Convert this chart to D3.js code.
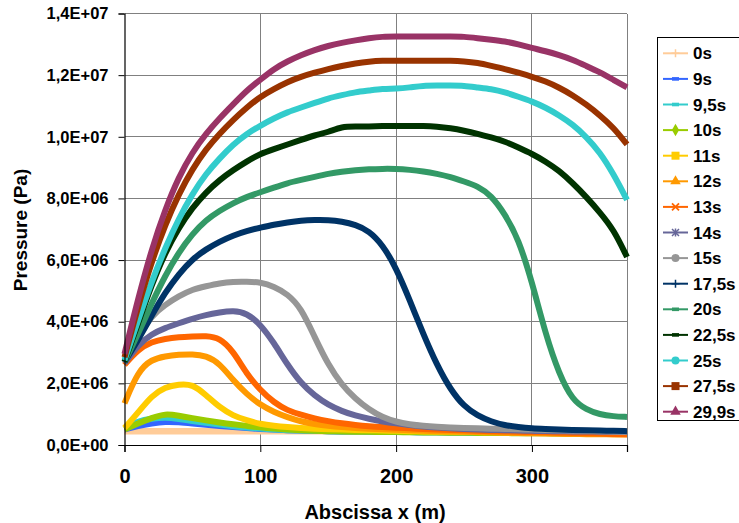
<!DOCTYPE html>
<html><head><meta charset="utf-8">
<script src="https://cdn.jsdelivr.net/npm/d3@7"></script>
<style>
body{margin:0;background:#fff}
svg{display:block}
text{font-family:"Liberation Sans",Arial,sans-serif;font-weight:bold;fill:#000}
</style>
</head><body>
<svg id="c" width="739" height="523"></svg>
<script>
// ---- data (pressure values in 1E+06 Pa) ----
const UNIT = 1e6;
const xValues = [0,10,20,30,40,50,60,70,80,90,100,110,120,130,140,150,160,170,180,190,200,210,220,230,240,250,260,270,280,290,300,310,320,330,340,350,360,370];
const seriesNames = ["0s","9s","9,5s","10s","11s","12s","13s","14s","15s","17,5s","20s","22,5s","25s","27,5s","29,9s"];
const seriesColors = ["#FFCC99","#3366FF","#33CCCC","#99CC00","#FFCC00","#FF9900","#FF6600","#666699","#969696","#003366","#339966","#003300","#33CCCC","#993300","#993366"];
const seriesMarkers = ["plus","dash","dash","diamond","square","triangle","x","star","circle","plus","dash","dash","circle","square","triangle"];

const p0s   = [0.45,0.45,0.45,0.45,0.45,0.45,0.45,0.45,0.45,0.45,0.45,0.45,0.45,0.45,0.45,0.45,0.45,0.45,0.45,0.45,0.45,0.45,0.45,0.45,0.45,0.45,0.45,0.45,0.45,0.45,0.45,0.45,0.45,0.45,0.45,0.45,0.45,0.45];
const p9s   = [0.5,0.62,0.7,0.76,0.74,0.7,0.66,0.62,0.58,0.55,0.52,0.5,0.48,0.47,0.46,0.45,0.44,0.44,0.43,0.43,0.42,0.42,0.41,0.41,0.41,0.4,0.4,0.4,0.4,0.39,0.39,0.39,0.39,0.38,0.38,0.38,0.38,0.38];
const p9_5s = [0.55,0.78,0.86,0.9,0.85,0.78,0.72,0.66,0.61,0.57,0.53,0.5,0.48,0.47,0.46,0.45,0.44,0.44,0.43,0.43,0.42,0.42,0.41,0.41,0.41,0.4,0.4,0.4,0.4,0.39,0.39,0.39,0.39,0.38,0.38,0.38,0.38,0.38];
const p10s  = [0.5,0.7,0.88,1.02,0.95,0.87,0.8,0.73,0.67,0.62,0.57,0.53,0.5,0.48,0.46,0.45,0.44,0.43,0.43,0.42,0.42,0.41,0.41,0.4,0.4,0.4,0.39,0.39,0.39,0.38,0.38,0.38,0.37,0.37,0.37,0.37,0.36,0.36];
const p11s  = [0.55,1.05,1.6,1.88,1.97,1.98,1.62,1.22,0.95,0.8,0.68,0.62,0.58,0.55,0.53,0.51,0.5,0.49,0.48,0.47,0.46,0.45,0.44,0.43,0.43,0.42,0.42,0.41,0.41,0.4,0.4,0.39,0.39,0.38,0.38,0.37,0.37,0.36];
const p12s  = [1.35,2.4,2.78,2.88,2.93,2.95,2.9,2.65,2.1,1.65,1.3,1.07,0.9,0.76,0.68,0.62,0.58,0.55,0.53,0.51,0.49,0.48,0.46,0.45,0.44,0.43,0.42,0.41,0.4,0.39,0.38,0.37,0.36,0.36,0.35,0.35,0.34,0.34];
const p13s  = [2.6,3.1,3.35,3.45,3.5,3.52,3.54,3.48,3.05,2.3,1.78,1.38,1.12,0.98,0.86,0.77,0.7,0.65,0.61,0.58,0.56,0.54,0.52,0.5,0.49,0.48,0.46,0.45,0.44,0.43,0.42,0.41,0.4,0.39,0.38,0.37,0.36,0.35];
const p14s  = [2.65,3.25,3.6,3.8,3.95,4.1,4.22,4.3,4.36,4.28,3.92,3.32,2.6,2.0,1.6,1.3,1.1,0.95,0.85,0.76,0.7,0.65,0.6,0.57,0.54,0.52,0.5,0.49,0.48,0.47,0.46,0.45,0.45,0.44,0.44,0.43,0.43,0.42];
const p15s  = [2.7,3.5,4.2,4.55,4.83,5.05,5.15,5.25,5.3,5.3,5.28,5.15,4.9,4.45,3.5,2.6,1.95,1.5,1.15,0.9,0.75,0.67,0.62,0.59,0.57,0.55,0.54,0.53,0.52,0.51,0.5,0.49,0.48,0.47,0.46,0.45,0.44,0.43];
const p17_5s= [2.7,3.4,4.2,4.95,5.55,6.03,6.35,6.6,6.8,6.95,7.05,7.15,7.22,7.28,7.3,7.3,7.25,7.15,6.95,6.5,5.75,4.7,3.6,2.6,1.8,1.25,0.95,0.76,0.64,0.58,0.54,0.52,0.5,0.49,0.48,0.47,0.46,0.45];
const p20s  = [2.7,3.6,4.6,5.5,6.25,6.85,7.3,7.6,7.85,8.05,8.2,8.35,8.5,8.6,8.7,8.8,8.87,8.92,8.95,8.96,8.96,8.93,8.88,8.8,8.7,8.55,8.4,8.1,7.5,6.7,5.3,3.6,2.3,1.45,1.15,0.99,0.93,0.91];
const p22_5s= [2.7,3.95,5.2,6.25,7.05,7.7,8.2,8.6,8.92,9.2,9.45,9.6,9.75,9.9,10.05,10.15,10.33,10.33,10.33,10.35,10.35,10.35,10.35,10.33,10.28,10.2,10.1,9.98,9.85,9.65,9.45,9.2,8.9,8.5,8.05,7.55,7.0,6.1];
const p25s  = [2.75,4.05,5.3,6.4,7.35,8.15,8.8,9.3,9.75,10.1,10.36,10.6,10.8,10.95,11.1,11.25,11.35,11.45,11.5,11.56,11.56,11.6,11.66,11.66,11.66,11.66,11.6,11.55,11.45,11.3,11.15,10.95,10.7,10.4,10.0,9.5,8.8,7.95];
const p27_5s= [2.85,4.5,5.95,7.15,8.15,8.95,9.6,10.1,10.55,10.95,11.3,11.55,11.78,11.95,12.08,12.2,12.3,12.38,12.44,12.47,12.47,12.47,12.47,12.47,12.47,12.45,12.4,12.3,12.2,12.08,11.95,11.8,11.6,11.35,11.05,10.7,10.3,9.75];
const p29_9s= [2.95,4.75,6.35,7.65,8.7,9.5,10.1,10.6,11.05,11.5,11.85,12.2,12.45,12.65,12.82,12.95,13.05,13.13,13.2,13.25,13.25,13.25,13.25,13.25,13.25,13.25,13.2,13.15,13.1,13.0,12.88,12.78,12.65,12.5,12.3,12.1,11.85,11.6];
const seriesValues = [p0s,p9s,p9_5s,p10s,p11s,p12s,p13s,p14s,p15s,p17_5s,p20s,p22_5s,p25s,p27_5s,p29_9s];

const yTicks = [0,2e6,4e6,6e6,8e6,10e6,12e6,14e6];
const yTickLabels = ["0,0E+00","2,0E+06","4,0E+06","6,0E+06","8,0E+06","1,0E+07","1,2E+07","1,4E+07"];
const xTicks = [0,100,200,300];
const xTickLabels = ["0","100","200","300"];

// ---- layout ----
const svg = d3.select("#c");
const L = 124.5, R = 627, T = 13.5, B = 445;
const x = d3.scaleLinear().domain([0,370]).range([L,R]);
const y = d3.scaleLinear().domain([0,14e6]).range([B,T]);

svg.append("rect").attr("width",739).attr("height",523).attr("fill","#fff");

// grid
const grid = svg.append("g").attr("stroke","#808080").attr("stroke-width",1).attr("shape-rendering","crispEdges");
yTicks.filter(v=>v>0).forEach(v=>grid.append("line").attr("x1",L).attr("x2",R).attr("y1",y(v)).attr("y2",y(v)));
xTicks.filter(v=>v>0).forEach(v=>grid.append("line").attr("x1",x(v)).attr("x2",x(v)).attr("y1",T).attr("y2",B));
grid.append("line").attr("x1",R).attr("x2",R).attr("y1",T).attr("y2",B);

// series
const line = d3.line().x((d,i)=>x(xValues[i])).y(d=>y(d*UNIT)).curve(d3.curveBasis);
const lines = svg.append("g");
seriesValues.forEach((vals,k)=>{
  lines.append("path").attr("d",line(vals)).attr("fill","none")
    .attr("stroke",seriesColors[k]).attr("stroke-width",k===0?6.5:6)
    .attr("stroke-linejoin","round").attr("stroke-linecap","butt");
});

// axes
const yAxis = d3.axisLeft(y).tickValues(yTicks).tickSize(6).tickPadding(10)
  .tickFormat((d,i)=>yTickLabels[i]);
const gy = svg.append("g").attr("transform",`translate(${L},0)`).call(yAxis);
gy.select(".domain").attr("stroke","#000").attr("stroke-width",1.2);
gy.selectAll(".tick line").attr("stroke","#000");
gy.selectAll("text").style("font-size","16.5px").style("font-weight","bold").attr("fill","#000");

const xAxis = d3.axisBottom(x).tickValues(xTicks).tickSize(7).tickPadding(17)
  .tickFormat((d,i)=>xTickLabels[i]);
const gx = svg.append("g").attr("transform",`translate(0,${B})`).call(xAxis);
gx.select(".domain").attr("stroke","#000").attr("stroke-width",1.2);
gx.selectAll(".tick line").attr("stroke","#000");
gx.selectAll("text").style("font-size","20px").style("font-weight","bold").attr("fill","#000");

// titles
svg.append("text").attr("x",375).attr("y",519).attr("text-anchor","middle")
  .style("font-size","20px").text("Abscissa x (m)");
svg.append("text").attr("transform","translate(27,230) rotate(-90)").attr("text-anchor","middle")
  .style("font-size","19px").text("Pressure (Pa)");

// legend
const lg = svg.append("g");
lg.append("rect").attr("x",657.5).attr("y",37.5).attr("width",120).attr("height",383)
  .attr("fill","#fff").attr("stroke","#000").attr("stroke-width",1);
function marker(g, type, color){
  const s = g.append("g");
  if(type==="plus"){ s.append("path").attr("d","M-4,0H4M0,-4V4").attr("stroke",color).attr("stroke-width",1.5).attr("fill","none"); }
  else if(type==="dash"){ s.append("rect").attr("x",-3.5).attr("y",-1.8).attr("width",7).attr("height",3.6).attr("fill",color); }
  else if(type==="diamond"){ s.append("path").attr("d",d3.symbol(d3.symbolDiamond,45)()).attr("fill",color); }
  else if(type==="square"){ s.append("rect").attr("x",-4).attr("y",-4).attr("width",8).attr("height",8).attr("fill",color); }
  else if(type==="triangle"){ s.append("path").attr("d",d3.symbol(d3.symbolTriangle,48)()).attr("fill",color); }
  else if(type==="x"){ s.append("path").attr("d","M-3.5,-3.5L3.5,3.5M-3.5,3.5L3.5,-3.5").attr("stroke",color).attr("stroke-width",1.8).attr("fill","none"); }
  else if(type==="star"){ s.append("path").attr("d","M-3.5,-3.5L3.5,3.5M-3.5,3.5L3.5,-3.5M0,-4V4").attr("stroke",color).attr("stroke-width",1.5).attr("fill","none"); }
  else if(type==="circle"){ s.append("circle").attr("r",4).attr("fill",color); }
  return s;
}
seriesNames.forEach((name,k)=>{
  const cy = 53.3 + k*25.6;
  const g = lg.append("g").attr("transform",`translate(0,${cy})`);
  g.append("line").attr("x1",663).attr("x2",688).attr("y1",0).attr("y2",0)
    .attr("stroke",seriesColors[k]).attr("stroke-width",2);
  marker(g, seriesMarkers[k], seriesColors[k]).attr("transform","translate(675.5,0)");
  g.append("text").attr("x",693).attr("y",6).style("font-size","17px").text(name);
});
</script>
</body></html>
